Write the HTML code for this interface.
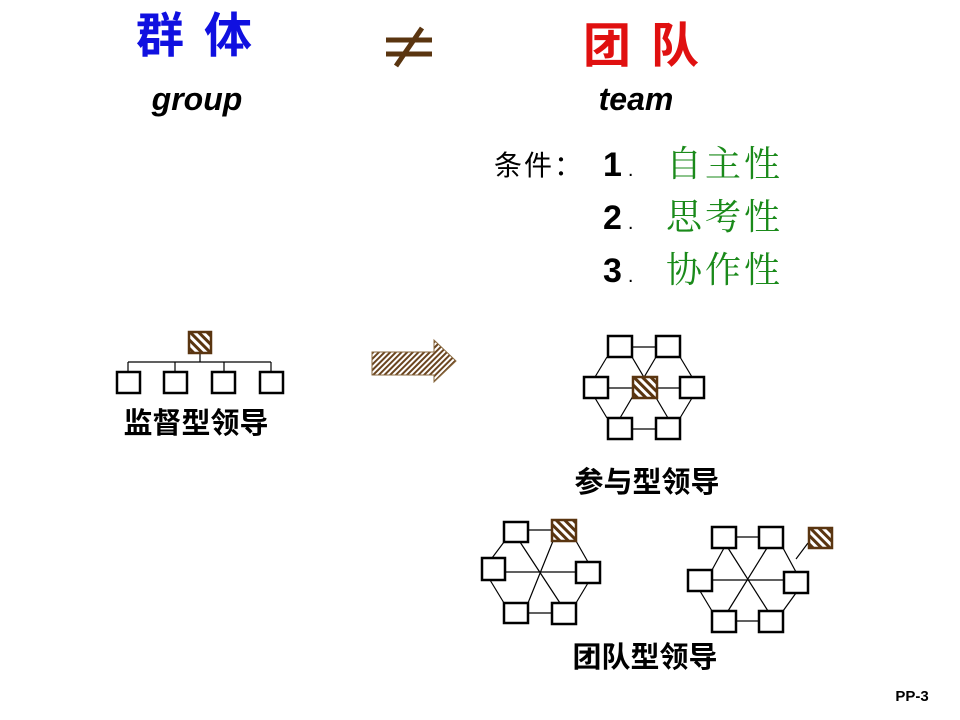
<!DOCTYPE html>
<html><head><meta charset="utf-8"><style>
html,body{margin:0;padding:0;background:#fff;}
svg{display:block;}
</style></head><body>
<svg width="960" height="720" viewBox="0 0 960 720" xmlns="http://www.w3.org/2000/svg">
<defs>
<pattern id="h" patternUnits="userSpaceOnUse" width="6" height="6" patternTransform="rotate(-45)">
<rect width="6" height="6" fill="#fff"/><rect width="3" height="6" fill="#5a3510"/>
</pattern>
<pattern id="h2" patternUnits="userSpaceOnUse" width="4" height="4" patternTransform="rotate(45)">
<rect width="4" height="4" fill="#fff"/><rect width="2" height="4" fill="#6b4520"/>
</pattern>
</defs>
<g font-family="'Liberation Sans','Noto Sans CJK SC',sans-serif">
<text x="136" y="52" font-size="48" font-weight="bold" fill="#1010e0" letter-spacing="20">群体</text>
<text x="583" y="62" font-size="48" font-weight="bold" fill="#e01010" letter-spacing="20">团队</text>
<g stroke="#5a3510" stroke-width="5">
<line x1="386" y1="40" x2="432" y2="40"/><line x1="386" y1="54" x2="432" y2="54"/><line x1="396" y1="66" x2="422" y2="28"/>
</g>
<text x="197" y="110" font-size="32" font-weight="bold" font-style="italic" text-anchor="middle">group</text>
<text x="636" y="110" font-size="32" font-weight="bold" font-style="italic" text-anchor="middle">team</text>
<text x="494" y="175" font-size="28" letter-spacing="2">条件：</text>
<text x="603" y="176" font-size="34" font-weight="bold">1<tspan dx="6" font-size="20" font-weight="normal">.</tspan></text>
<text x="603" y="229" font-size="34" font-weight="bold">2<tspan dx="6" font-size="20" font-weight="normal">.</tspan></text>
<text x="603" y="282" font-size="34" font-weight="bold">3<tspan dx="6" font-size="20" font-weight="normal">.</tspan></text>
<g fill="#1a8a1a" font-size="36" font-family="'Noto Serif CJK SC',serif" letter-spacing="3">
<text x="666" y="176">自主性</text>
<text x="666" y="229">思考性</text>
<text x="666" y="282">协作性</text>
</g>
<text x="196" y="433" font-size="29" font-weight="bold" text-anchor="middle">监督型领导</text>
<text x="647" y="492" font-size="29" font-weight="bold" text-anchor="middle">参与型领导</text>
<text x="645" y="667" font-size="29" font-weight="bold" text-anchor="middle">团队型领导</text>
<text x="912" y="701" font-size="15" font-weight="bold" text-anchor="middle">PP-3</text>
</g>
<g stroke="#000" stroke-width="1.2" fill="none">
<line x1="200" y1="353" x2="200" y2="362"/><line x1="128" y1="362" x2="271" y2="362"/>
<line x1="128" y1="362" x2="128" y2="372"/><line x1="175" y1="362" x2="175" y2="372"/><line x1="224" y1="362" x2="224" y2="372"/><line x1="271" y1="362" x2="271" y2="372"/>
<line x1="632" y1="347" x2="656" y2="347"/><line x1="632" y1="429" x2="656" y2="429"/>
<line x1="608" y1="388" x2="680" y2="388"/>
<line x1="607" y1="357" x2="595" y2="377"/><line x1="595" y1="398" x2="607" y2="418"/>
<line x1="680" y1="357" x2="692" y2="377"/><line x1="692" y1="398" x2="680" y2="418"/>
<line x1="632" y1="357" x2="668" y2="418"/><line x1="656" y1="357" x2="620" y2="418"/>
<line x1="528" y1="530" x2="552" y2="530"/><line x1="528" y1="613" x2="552" y2="613"/>
<line x1="505" y1="572" x2="576" y2="572"/>
<line x1="504" y1="542" x2="492" y2="558"/><line x1="490" y1="580" x2="504" y2="603"/>
<line x1="576" y1="541" x2="588" y2="562"/><line x1="588" y1="583" x2="576" y2="603"/>
<line x1="520" y1="542" x2="560" y2="603"/><line x1="553" y1="541" x2="528" y2="603"/>
<line x1="736" y1="537" x2="759" y2="537"/><line x1="736" y1="621" x2="759" y2="621"/>
<line x1="712" y1="580" x2="784" y2="580"/>
<line x1="724" y1="548" x2="712" y2="570"/><line x1="700" y1="591" x2="712" y2="611"/>
<line x1="783" y1="548" x2="796" y2="572"/><line x1="796" y1="593" x2="783" y2="611"/>
<line x1="728" y1="548" x2="768" y2="611"/><line x1="767" y1="548" x2="728" y2="611"/>
<line x1="808" y1="543" x2="796" y2="559"/>
</g>
<g stroke="#000" stroke-width="2.5" fill="#fff">
<rect x="117" y="372" width="23" height="21"/><rect x="164" y="372" width="23" height="21"/><rect x="212" y="372" width="23" height="21"/><rect x="260" y="372" width="23" height="21"/>
<rect x="608" y="336" width="24" height="21"/><rect x="656" y="336" width="24" height="21"/>
<rect x="584" y="377" width="24" height="21"/><rect x="680" y="377" width="24" height="21"/>
<rect x="608" y="418" width="24" height="21"/><rect x="656" y="418" width="24" height="21"/>
<rect x="504" y="522" width="24" height="20"/>
<rect x="482" y="558" width="23" height="22"/><rect x="576" y="562" width="24" height="21"/>
<rect x="504" y="603" width="24" height="20"/><rect x="552" y="603" width="24" height="21"/>
<rect x="712" y="527" width="24" height="21"/><rect x="759" y="527" width="24" height="21"/>
<rect x="688" y="570" width="24" height="21"/><rect x="784" y="572" width="24" height="21"/>
<rect x="712" y="611" width="24" height="21"/><rect x="759" y="611" width="24" height="21"/>
</g>
<g stroke="#5a3510" stroke-width="2.5" fill="url(#h)">
<rect x="189" y="332" width="22" height="21"/>
<rect x="633" y="377" width="24" height="21"/>
<rect x="552" y="520" width="24" height="21"/>
<rect x="809" y="528" width="23" height="20"/>
</g>
<polygon points="372,352 434,352 434,340 456,361 434,382 434,375 372,375" fill="url(#h2)" stroke="#8a6a40" stroke-width="1"/>
</svg>
</body></html>
